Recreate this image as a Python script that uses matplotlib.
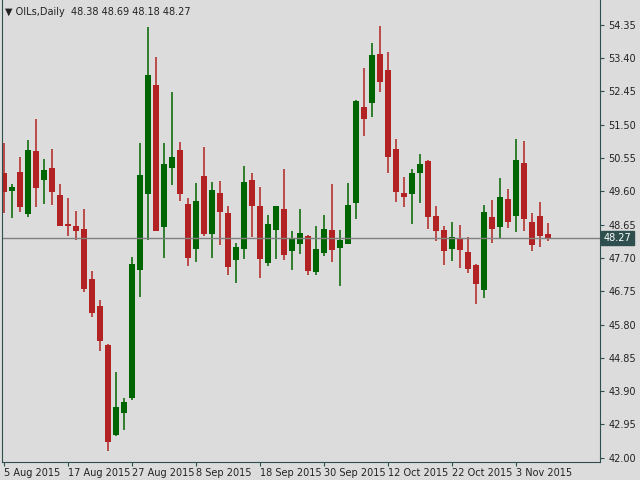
import matplotlib
matplotlib.use("Agg")
import matplotlib.pyplot as plt

opens  = [50.12,49.60,50.15,48.95,50.75,49.93,50.26,49.49,48.66,48.60,48.54,47.09,46.34,45.23,42.66,43.29,43.72,47.35,49.53,52.63,
          48.58,50.27,50.78,49.23,47.95,50.03,48.38,49.55,48.97,47.64,47.95,49.92,49.17,47.55,48.50,49.09,47.90,48.10,48.32,47.29,
          47.84,48.49,47.98,48.10,49.27,52.00,52.13,53.52,53.06,50.80,49.55,49.53,50.13,50.46,48.89,48.49,47.95,48.23,47.86,47.49,
          46.78,48.86,48.58,49.38,48.90,50.40,48.73,48.91,48.38]
highs  = [50.98,49.81,50.57,51.06,51.66,50.52,50.80,49.80,49.40,49.03,49.09,47.34,46.49,45.26,44.45,43.71,47.72,50.98,54.29,53.43,
          50.98,52.43,51.00,49.40,49.83,50.86,49.86,49.89,49.17,48.14,50.32,50.12,49.72,48.94,49.17,50.23,48.46,49.09,48.37,48.60,
          48.94,49.80,48.49,49.83,52.20,53.12,53.84,54.32,53.58,51.09,50.00,50.23,50.66,50.49,49.17,48.60,48.72,48.63,48.29,47.52,
          49.20,49.35,49.97,49.66,51.10,51.04,48.98,49.31,48.69]
lows   = [48.99,48.84,49.01,48.87,49.15,49.24,49.21,48.61,48.33,48.21,46.72,46.01,45.04,42.18,42.63,42.78,43.66,46.58,48.21,48.47,
          47.70,49.78,49.33,47.47,47.58,48.34,47.70,48.07,47.21,46.98,47.67,48.29,47.13,47.47,47.67,47.64,47.35,47.81,47.21,47.21,
          47.75,47.58,46.89,48.10,48.81,51.18,51.73,52.44,50.13,49.30,49.15,48.67,49.27,48.53,48.18,47.50,47.61,47.42,47.27,46.38,
          46.55,48.13,48.24,48.55,48.44,48.47,47.90,48.01,48.18]
closes = [49.58,49.72,49.15,50.78,49.70,50.20,49.58,48.61,48.61,48.47,46.81,46.12,45.32,42.46,43.45,43.60,47.54,50.06,52.92,48.47,
          50.37,50.57,49.53,47.70,49.32,48.38,49.63,49.01,47.44,48.00,49.86,49.18,47.67,48.66,49.17,47.78,48.26,48.40,47.32,47.97,
          48.52,47.93,48.20,49.20,52.18,51.67,53.49,52.73,50.58,49.58,49.44,50.12,50.37,48.87,48.47,47.90,48.29,47.93,47.38,46.95,
          49.00,48.53,49.43,48.73,50.49,48.81,48.07,48.33,48.27]
date_labels = ["5 Aug 2015","17 Aug 2015","27 Aug 2015","8 Sep 2015","18 Sep 2015",
               "30 Sep 2015","12 Oct 2015","22 Oct 2015","3 Nov 2015"]
date_idx = [0,8,16,24,32,40,48,56,64]
price_ticks = [54.35,53.40,52.45,51.50,50.55,49.60,48.65,47.70,46.75,45.80,44.85,43.90,42.95,42.00]
last_price = 48.27

bg = "#DCDCDC"; dark = "#2F4F4F"; up = "#006400"; dn = "#B22222"
fig = plt.figure(figsize=(6.4,4.8), dpi=100, facecolor=bg)
ax = fig.add_axes([2/640, 18/480, 598/640, 462/480], facecolor=bg)
for i,(o,h,l,c) in enumerate(zip(opens,highs,lows,closes)):
    col = up if c >= o else dn
    ax.vlines(i, l, h, color=col, lw=1.1)
    ax.bar(i, abs(c-o) if abs(c-o)>0.03 else 0.03, bottom=min(o,c), width=0.65, color=col, lw=0)
ax.axhline(last_price, color="#808080", lw=1)
ax.set_xlim(-0.25, 74.5)
ax.set_ylim(41.88, 55.06)
for s in ["top"]:
    ax.spines[s].set_visible(False)
for s in ["left","right","bottom"]:
    ax.spines[s].set_color(dark)
ax.yaxis.tick_right()
ax.set_yticks(price_ticks)
ax.set_yticklabels([f"{p:.2f}" for p in price_ticks])
ax.tick_params(axis="y", colors=dark, labelcolor="#222222", labelsize=7, length=3, direction="out", pad=3)
ax.set_xticks(date_idx)
ax.set_xticklabels(date_labels, ha="left")
ax.tick_params(axis="x", colors=dark, labelcolor="#222222", labelsize=7, length=3, pad=1)
ax.text(1.006, (last_price-41.88)/(55.06-41.88), f"{last_price:.2f}", transform=ax.transAxes,
        fontsize=7, color="white", va="center", ha="left",
        bbox=dict(boxstyle="square,pad=0.25", fc=dark, ec=dark))
ax.text(0.005, 0.985, "▼ OILs,Daily  48.38 48.69 48.18 48.27", transform=ax.transAxes,
        fontsize=7, color="#222222", va="top", ha="left")
fig.savefig("out.png", dpi=100, facecolor=bg)
